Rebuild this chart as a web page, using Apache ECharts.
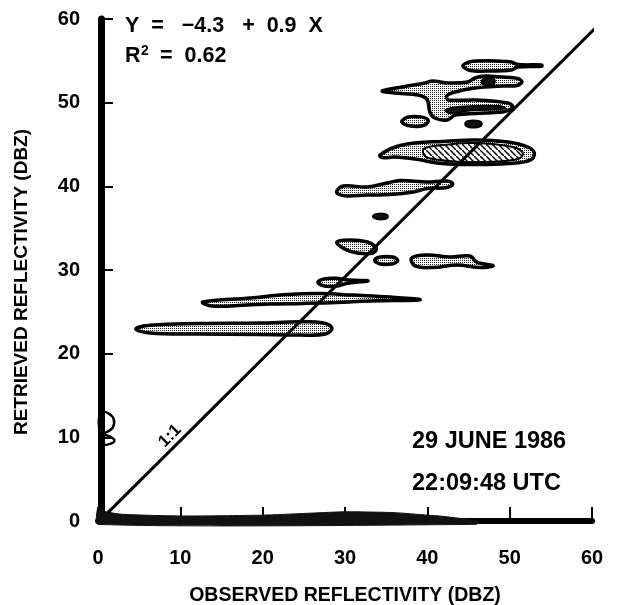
<!DOCTYPE html>
<html><head><meta charset="utf-8">
<script src="https://cdn.jsdelivr.net/npm/echarts@6/dist/echarts.min.js"></script>
<style>html,body{margin:0;padding:0;background:#fff}#c{width:621px;height:605px}</style>
</head><body><div id="c"></div>
<script>
// ---- axis ticks ----
const xTickValues = [0, 10, 20, 30, 40, 50, 60];
const yTickValues = [0, 10, 20, 30, 40, 50, 60];

// ---- 1:1 reference line as drawn ----
const oneToOneLine = [[1.2, 1.0], [61.6, 60.1]];

// ---- contour outlines (observed dBZ, retrieved dBZ) ----
const contour23 = [[4.6,22.95],[6.3,23.4],[12.4,23.6],[19.7,23.66],[24.5,23.8],[27.2,23.7],[28.4,23.07],[27.6,22.35],[24.5,22.23],[19.7,22.29],[12.4,22.35],[6.3,22.47]];
const contour26 = [[12.75,26.17],[18.5,26.65],[23.0,27.07],[27.0,27.19],[31.0,27.0],[35.5,26.77],[39.1,26.45],[33.0,26.29],[29.0,26.11],[24.9,26.0],[20.9,25.93],[18.1,25.82],[13.85,25.7]];
const contour28 = [[26.7,28.55],[27.6,28.95],[28.8,29.0],[30.5,28.8],[32.8,28.7],[30.5,28.45],[28.8,28.05],[27.4,28.1]];
const contour32 = [[29.0,33.35],[30.6,33.6],[32.7,33.35],[33.8,32.63],[33.4,32.03],[31.5,32.03],[30.0,32.5]];
const contour31a = [[33.6,31.15],[34.3,31.55],[35.8,31.55],[36.4,31.15],[35.8,30.75],[34.3,30.72]];
const contour31b = [[38.1,31.43],[40.0,31.79],[42.75,31.55],[45.2,31.67],[46.0,30.95],[48.0,30.53],[46.4,30.3],[43.6,30.6],[40.7,30.3],[38.5,30.5]];
const contour36 = [[33.4,36.4],[33.9,36.7],[34.8,36.7],[35.2,36.4],[34.8,36.1],[33.9,36.1]];
const contour40 = [[29.0,39.44],[29.8,40.04],[32.7,39.92],[35.1,40.4],[36.7,40.7],[40.0,40.52],[42.4,40.64],[43.1,40.28],[42.4,39.86],[40.0,39.74],[38.3,39.32],[35.5,39.02],[32.7,38.96],[30.2,38.84],[29.15,39.08]];
const contour44 = [[34.25,43.74],[36.1,44.7],[38.5,45.18],[41.8,45.36],[45.8,45.54],[49.8,45.3],[52.2,44.7],[53.0,43.98],[52.5,43.14],[49.8,42.72],[45.8,42.6],[41.8,42.72],[38.5,43.26],[36.1,43.5],[34.5,43.44]];
const core44 = [[39.7,44.57],[41.8,44.93],[45.8,45.18],[50.4,44.7],[51.6,43.98],[51.1,43.3],[47.9,42.95],[43.7,42.95],[40.1,43.38],[39.5,43.98]];
const contour47 = [[44.6,47.45],[45.0,47.8],[46.2,47.8],[46.6,47.45],[46.2,47.1],[45.0,47.1]];
const contour48 = [[36.9,47.7],[37.6,48.25],[39.2,48.3],[40.1,47.9],[39.6,47.3],[38.0,47.2]];
const contour51 = [[34.5,51.39],[36.9,51.87],[39.7,52.35],[40.6,52.59],[42.5,52.35],[44.9,52.47],[45.8,52.95],[47.0,53.19],[49.1,53.07],[51.0,52.89],[51.5,52.47],[50.9,52.05],[49.1,51.99],[45.8,51.75],[43.4,51.27],[42.4,50.85],[42.5,50.32],[45.8,50.32],[49.8,49.96],[50.4,49.48],[49.4,48.94],[47.0,48.76],[43.4,48.52],[42.4,47.93],[40.9,48.17],[40.3,48.88],[40.0,50.32],[38.9,50.91],[36.1,51.15]];
const core51a = [[46.6,52.5],[47.0,52.9],[47.8,52.95],[48.2,52.6],[47.9,52.15],[47.0,52.1]];
const core51b = [[42.2,49.1],[44.0,49.5],[48.8,49.6],[49.4,49.3],[45.2,49.05],[42.8,48.75]];
const contour54 = [[44.3,54.4],[45.2,54.9],[47.5,55.0],[50.2,54.85],[51.0,54.55],[53.9,54.5],[53.9,54.35],[51.0,54.25],[50.2,53.9],[47.5,53.78],[45.2,53.85]];
const axisLobeUpper = [[0.3,13.0],[1.2,12.9],[1.9,12.2],[1.8,11.2],[1.0,10.6],[0.3,10.5]];
const axisLobeLower = [[0.3,10.0],[1.0,10.25],[2.0,9.6],[1.0,9.1],[0.3,9.2]];
const bottomBand = [[0,1.6],[1,1.1],[3,0.8],[10,0.6],[20,0.7],[25,0.9],[30,1.1],[36,1.0],[40,0.7],[42,0.55],[46,0.0],[46,-0.4],[0,-0.4]];

// ---- fill patterns ----
function stippleCanvas() {
  const c = document.createElement('canvas'); c.width = 2; c.height = 2;
  const g = c.getContext('2d');
  g.fillStyle = '#fff'; g.fillRect(0, 0, 2, 2);
  g.fillStyle = '#222'; g.fillRect(0, 0, 1, 1);
  return c;
}
function hatchCanvas() {
  const c = document.createElement('canvas'); c.width = 6; c.height = 6;
  const g = c.getContext('2d');
  g.fillStyle = '#fff'; g.fillRect(0, 0, 6, 6);
  g.strokeStyle = '#000'; g.lineWidth = 1.5;
  g.beginPath(); g.moveTo(-1, -1); g.lineTo(7, 7); g.stroke();
  return c;
}
const stipple = { image: stippleCanvas(), repeat: 'repeat' };
const hatch = { image: hatchCanvas(), repeat: 'repeat' };

const FONT = "'Liberation Sans', Arial, Helvetica, sans-serif";

function polySeries(pts, style, z, smooth) {
  return {
    type: 'custom', coordinateSystem: 'cartesian2d', silent: true, z: z, clip: false,
    data: [pts[0]],
    renderItem: function (params, api) {
      return {
        type: 'polygon',
        shape: { points: pts.map(function (p) { return api.coord(p); }), smooth: smooth },
        style: Object.assign({}, style)
      };
    }
  };
}

const outlineStipple = { fill: stipple, stroke: '#000', lineWidth: 3.5 };
const outlineHatch = { fill: hatch, stroke: '#000', lineWidth: 2 };
const solidDark = { fill: '#111', stroke: '#000', lineWidth: 2 };
const outlineOnly = { fill: 'none', stroke: '#000', lineWidth: 2.5 };

const series = [
  polySeries(contour23, outlineStipple, 2, 0.4),
  polySeries(contour26, outlineStipple, 2, 0.4),
  polySeries(contour28, outlineStipple, 2, 0.4),
  polySeries(contour32, outlineStipple, 2, 0.4),
  polySeries(contour31a, outlineStipple, 2, 0.4),
  polySeries(contour31b, outlineStipple, 2, 0.4),
  polySeries(contour36, solidDark, 3, 0.4),
  polySeries(contour40, outlineStipple, 2, 0.4),
  polySeries(contour44, outlineStipple, 2, 0.4),
  polySeries(core44, outlineHatch, 3, 0.4),
  polySeries(contour47, solidDark, 3, 0.4),
  polySeries(contour48, outlineStipple, 2, 0.4),
  polySeries(contour51, outlineStipple, 2, 0.3),
  polySeries(core51a, solidDark, 3, 0.4),
  polySeries(core51b, solidDark, 3, 0.4),
  polySeries(contour54, outlineStipple, 2, 0.3),
  polySeries(axisLobeUpper, outlineOnly, 3, 0.4),
  polySeries(axisLobeLower, outlineOnly, 3, 0.4),
  polySeries(bottomBand, { fill: '#111', stroke: '#111', lineWidth: 1 }, 4, 0.2),
  {
    type: 'line', data: oneToOneLine, symbol: 'none', clip: false, silent: true, z: 6,
    lineStyle: { color: '#000', width: 3 }
  }
];

const chart = echarts.init(document.getElementById('c'), null, { renderer: 'canvas' });
chart.setOption({
  backgroundColor: '#fff',
  animation: false,
  grid: { left: 98, right: 29, top: 19, bottom: 84, containLabel: false, outerBoundsMode: 'none' },
  xAxis: {
    type: 'value', min: xTickValues[0], max: xTickValues[xTickValues.length - 1], interval: 10,
    offset: 6,
    name: 'OBSERVED REFLECTIVITY (DBZ)', nameLocation: 'middle', nameGap: 59,
    nameTextStyle: { fontFamily: FONT, fontSize: 19.5, fontWeight: 'bold', color: '#000' },
    axisLine: { show: true, lineStyle: { color: '#000', width: 6 } },
    axisTick: { show: true, inside: true, length: 14, lineStyle: { color: '#000', width: 2 } },
    axisLabel: { margin: 21, fontFamily: FONT, fontSize: 20, fontWeight: 'bold', color: '#000' },
    splitLine: { show: false }
  },
  yAxis: {
    type: 'value', min: yTickValues[0], max: yTickValues[yTickValues.length - 1], interval: 10,
    offset: -3,
    name: 'RETRIEVED REFLECTIVITY (DBZ)', nameLocation: 'middle', nameGap: 70, nameRotate: 90,
    nameTextStyle: { fontFamily: FONT, fontSize: 19, fontWeight: 'bold', color: '#000', padding: [0, 24, 0, 0] },
    axisLine: { show: true, lineStyle: { color: '#000', width: 7 } },
    axisTick: { show: true, inside: true, length: 12, lineStyle: { color: '#000', width: 2 } },
    axisLabel: { margin: 21, fontFamily: FONT, fontSize: 20, fontWeight: 'bold', color: '#000' },
    splitLine: { show: false }
  },
  graphic: [
    { type: 'text', x: 125, y: 26, style: { text: 'Y  =   \u22124.3   +  0.9  X', fontFamily: FONT, fontSize: 21.5, fontWeight: 'bold', fill: '#000', verticalAlign: 'middle' } },
    { type: 'text', x: 125, y: 56, style: { text: 'R', fontFamily: FONT, fontSize: 21.5, fontWeight: 'bold', fill: '#000', verticalAlign: 'middle' } },
    { type: 'text', x: 141, y: 51, style: { text: '2', fontFamily: FONT, fontSize: 14, fontWeight: 'bold', fill: '#000', verticalAlign: 'middle' } },
    { type: 'text', x: 160, y: 56, style: { text: '=  0.62', fontFamily: FONT, fontSize: 21.5, fontWeight: 'bold', fill: '#000', verticalAlign: 'middle' } },
    { type: 'text', x: 412, y: 442, style: { text: '29 JUNE 1986', fontFamily: FONT, fontSize: 23.5, fontWeight: 'bold', fill: '#000', verticalAlign: 'middle' } },
    { type: 'text', x: 412, y: 484, style: { text: '22:09:48 UTC', fontFamily: FONT, fontSize: 23.5, fontWeight: 'bold', fill: '#000', verticalAlign: 'middle' } },
    { type: 'text', x: 170, y: 436, rotation: Math.PI / 4, style: { text: '1:1', fontFamily: FONT, fontSize: 17, fontWeight: 'bold', fill: '#000', align: 'center', verticalAlign: 'middle' } }
  ],
  series: series
});
</script>
</body></html>
